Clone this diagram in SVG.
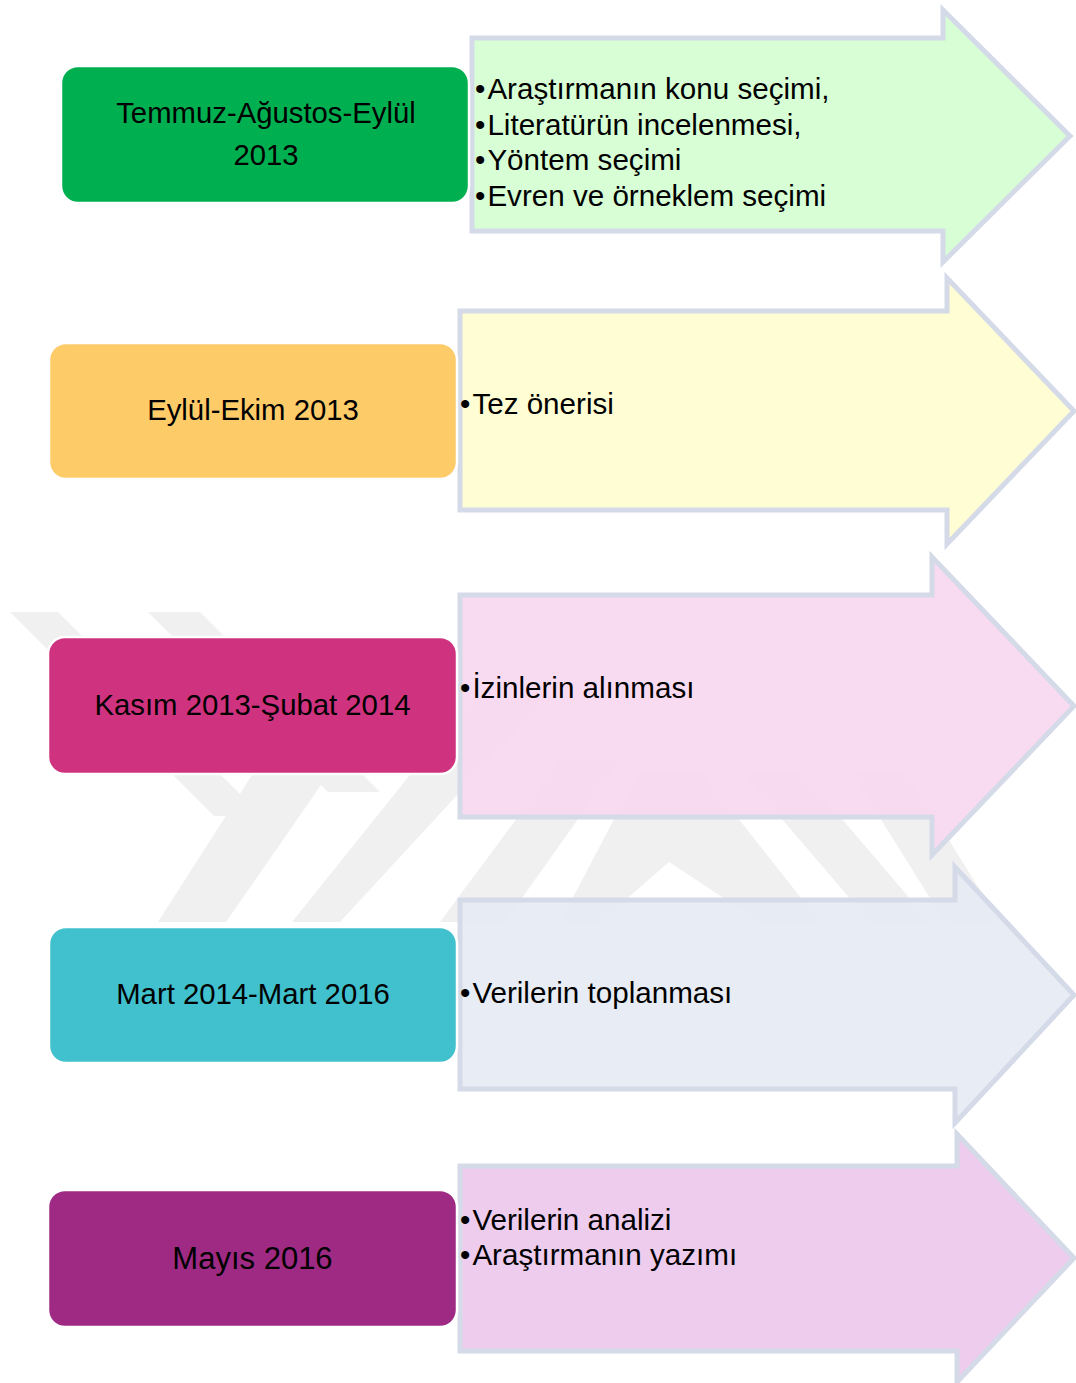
<svg xmlns="http://www.w3.org/2000/svg" width="1076" height="1383" viewBox="0 0 1076 1383">
<style>
.wm{fill:#F0F0F0}
.arrow{stroke:#D4DAE8;stroke-width:5;stroke-linejoin:miter}
.box{stroke:#FFFFFF;stroke-width:2.5}
.lbl{font-family:"Liberation Sans",Arial,sans-serif;font-size:29.3px;fill:#000000;text-anchor:middle}
.itm{font-family:"Liberation Sans",Arial,sans-serif;font-size:29.6px;fill:#000000}
</style>
<rect width="1076" height="1383" fill="#FFFFFF"/>
<g id="watermark">
<polygon class="wm" points="10,612 58,612 262,816 214,816"/>
<polygon class="wm" points="148,612 200,612 380,792 328,792"/>
<polygon class="wm" points="300,700 380,700 226,922 158,922"/>
<polygon class="wm" points="470,700 545,700 340,922 292,922"/>
<polygon class="wm" points="560,760 620,760 505,922 440,922"/>
<polygon class="wm" points="640,770 700,770 820,922 760,922 669,862 600,922 560,922"/>
<polygon class="wm" points="740,770 800,770 930,922 870,922"/>
<polygon class="wm" points="850,770 905,770 1000,922 945,922"/>
</g>
<g id="connectors"></g>
<g id="arrow1">
<polygon class="arrow" fill="#D4FED1" fill-opacity="0.94" points="472,38 943,38 943,10 1070,136 943,262 943,231 472,231"/>
<text class="itm" x="475" y="99">•<tspan dx="2">Araştırmanın konu seçimi,</tspan></text>
<text class="itm" x="475" y="134.5">•<tspan dx="2">Literatürün incelenmesi,</tspan></text>
<text class="itm" x="475" y="170">•<tspan dx="2">Yöntem seçimi</tspan></text>
<text class="itm" x="475" y="205.5">•<tspan dx="2">Evren ve örneklem seçimi</tspan></text>
</g>
<g id="arrow2">
<polygon class="arrow" fill="#FFFDD0" fill-opacity="0.94" points="460,311 947,311 947,278 1074,411 947,544 947,510 460,510"/>
<text class="itm" x="460" y="414">•<tspan dx="2">Tez önerisi</tspan></text>
</g>
<g id="arrow3">
<polygon class="arrow" fill="#F9D8F0" fill-opacity="0.92" points="460,595 932,595 932,557 1074,706 932,855 932,817 460,817"/>
<text class="itm" x="460" y="698">•<tspan dx="2">İzinlerin alınması</tspan></text>
</g>
<g id="arrow4">
<polygon class="arrow" fill="#E6EAF3" fill-opacity="0.92" points="460,900 955,900 955,867 1074,995 955,1123 955,1089 460,1089"/>
<text class="itm" x="460" y="1003">•<tspan dx="2">Verilerin toplanması</tspan></text>
</g>
<g id="arrow5">
<polygon class="arrow" fill="#ECC9EC" fill-opacity="0.95" points="460,1166 957,1166 957,1134 1074,1258 957,1382 957,1351 460,1351"/>
<text class="itm" x="460" y="1230">•<tspan dx="2">Verilerin analizi</tspan></text>
<text class="itm" x="460" y="1265">•<tspan dx="2">Araştırmanın yazımı</tspan></text>
</g>
<g id="box1">
<rect class="box" x="61" y="66" width="408" height="137" rx="17" fill="#00B050"/>
<text class="lbl" x="266" y="123">Temmuz-Ağustos-Eylül</text>
<text class="lbl" x="266" y="165">2013</text>
</g>
<g id="box2">
<rect class="box" x="49" y="343" width="408" height="136" rx="17" fill="#FECB69"/>
<text class="lbl" x="253" y="420">Eylül-Ekim 2013</text>
</g>
<g id="box3">
<rect class="box" x="48" y="637" width="409" height="137" rx="17" fill="#CF337F"/>
<text class="lbl" x="252.5" y="715">Kasım 2013-Şubat 2014</text>
</g>
<g id="box4">
<rect class="box" x="49" y="927" width="408" height="136" rx="17" fill="#41C0CD"/>
<text class="lbl" x="253" y="1004">Mart 2014-Mart 2016</text>
</g>
<g id="box5">
<rect class="box" x="48" y="1190" width="409" height="137" rx="17" fill="#9E2A83"/>
<text class="lbl" x="252.5" y="1269" style="font-size:31px">Mayıs 2016</text>
</g>
</svg>
